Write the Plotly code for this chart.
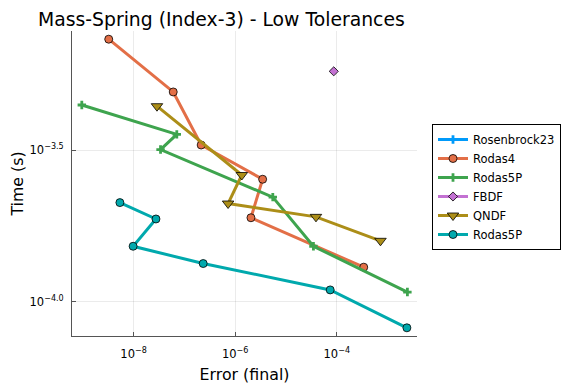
import plotly.graph_objects as go

# Data (error, time)
rodas4_err = [10**-8.49, 10**-7.22, 10**-6.67, 10**-5.46, 10**-5.69, 10**-3.47]
rodas4_t = [10**-3.134, 10**-3.308, 10**-3.483, 10**-3.596, 10**-3.723, 10**-3.886]

rodas5p_err = [10**-9.02, 10**-7.15, 10**-7.47, 10**-5.26, 10**-4.46, 10**-2.61]
rodas5p_t = [10**-3.351, 10**-3.448, 10**-3.498, 10**-3.655, 10**-3.817, 10**-3.968]

fbdf_err = [10**-4.06]
fbdf_t = [10**-3.240]

qndf_err = [10**-7.54, 10**-5.87, 10**-6.14, 10**-4.41, 10**-3.14]
qndf_t = [10**-3.355, 10**-3.582, 10**-3.676, 10**-3.720, 10**-3.799]

rodas5p2_err = [10**-8.27, 10**-7.56, 10**-8.01, 10**-6.63, 10**-4.13, 10**-2.62]
rodas5p2_t = [10**-3.673, 10**-3.727, 10**-3.817, 10**-3.874, 10**-3.961, 10**-4.086]

x_tickvals = [1e-8, 1e-6, 1e-4]
x_ticktext = ["10<sup>−8</sup>", "10<sup>−6</sup>", "10<sup>−4</sup>"]
y_tickvals = [10**-3.5, 10**-4.0]
y_ticktext = ["10<sup>−3.5</sup>", "10<sup>−4.0</sup>"]

FONT = "DejaVu Sans"
W, H = 568, 376  # page body has an 8px offset
fig = go.Figure()

def add(name, x, y, color, symbol, msize, lw=0.8):
    fig.add_trace(go.Scatter(
        x=x, y=y, name=name, mode="lines+markers",
        line=dict(color=color, width=3),
        marker=dict(symbol=symbol, size=msize, color=color,
                    line=dict(color="black" if symbol != "cross" else color, width=lw)),
    ))

add("Rosenbrock23", [None], [None], "#009AFA", "cross", 7, 0)
add("Rodas4", rodas4_err, rodas4_t, "#E36F47", "circle", 8)
add("Rodas5P", rodas5p_err, rodas5p_t, "#3EA44E", "cross", 7, 0)
add("FBDF", fbdf_err, fbdf_t, "#C371D2", "diamond", 7)
add("QNDF", qndf_err, qndf_t, "#AC8E18", "triangle-down", 10)
add("Rodas5P", rodas5p2_err, rodas5p2_t, "#00A9AD", "circle", 8)

axis_common = dict(
    type="log", showline=True, linecolor="#555555", linewidth=1,
    ticks="inside", ticklen=4, tickcolor="#555555",
    showgrid=True, gridcolor="rgba(0,0,0,0.08)", gridwidth=1,
    zeroline=False, mirror=False, automargin=False,
    tickfont=dict(family=FONT, size=11.5, color="black"),
)

plot_l, plot_r, plot_t, plot_b = 72 - 8, 576 - 417, 31 - 8, 384 - 336

fig.update_layout(
    width=W, height=H,
    paper_bgcolor="white", plot_bgcolor="white",
    margin=dict(l=plot_l, r=plot_r, t=plot_t, b=plot_b),
    title=dict(text="Mass-Spring (Index-3) - Low Tolerances",
               font=dict(family=FONT, size=18.8, color="black"),
               x=(38 - 8) / W, xanchor="left", y=1 - 5 / H, yanchor="top", automargin=False),
    xaxis=dict(axis_common, range=[-9.213, -2.421],
               tickvals=x_tickvals, ticktext=x_ticktext, ticklabelstandoff=7,
               title=dict(text="Error (final)", font=dict(family=FONT, size=15.8, color="black"), standoff=10)),
    yaxis=dict(axis_common, range=[-4.113, -3.107],
               tickvals=y_tickvals, ticktext=y_ticktext, ticklabelstandoff=5,
               title=dict(text="Time (s)", font=dict(family=FONT, size=15.8, color="black"), standoff=14)),
    legend=dict(x=(432 - 72) / (417 - 72), y=(336 - 124) / (336 - 31), xanchor="left", yanchor="top",
                bordercolor="black", borderwidth=1, bgcolor="white",
                font=dict(family=FONT, size=11.5, color="black"),
                tracegroupgap=0, itemwidth=30),
    showlegend=True,
)

fig.write_html("out.html")
